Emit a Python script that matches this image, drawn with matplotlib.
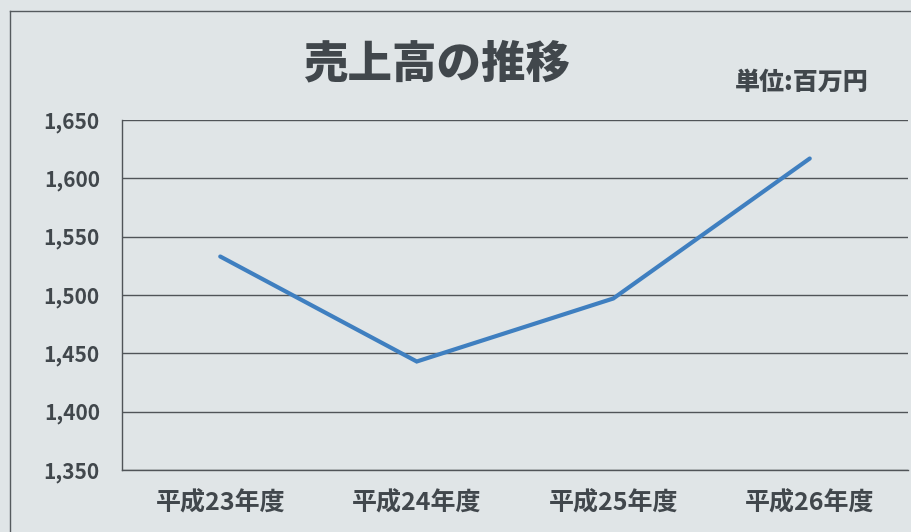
import matplotlib.pyplot as plt
from matplotlib.lines import Line2D
from matplotlib.ticker import FuncFormatter

plt.rcParams['font.family'] = ['Noto Sans CJK JP', 'DejaVu Sans']

# 売上高 (百万円)
years = ['平成23年度', '平成24年度', '平成25年度', '平成26年度']
sales = [1533, 1443, 1497, 1617]
y_ticks = [1350, 1400, 1450, 1500, 1550, 1600, 1650]

bg = '#e0e5e7'
text_col = '#41474c'

fig = plt.figure(figsize=(9.12, 5.32), dpi=100, facecolor=bg)
ax = fig.add_axes([122 / 912, 62 / 532, 786 / 912, 350 / 532])
ax.set_facecolor(bg)

x = range(len(years))
ax.plot(x, sales, color='#3f7fc0', linewidth=3.0, solid_capstyle='round', solid_joinstyle='miter', zorder=3)

ax.set_xlim(-0.5, len(years) - 0.5)
ax.set_ylim(y_ticks[0], y_ticks[-1])
ax.set_yticks(y_ticks)
ax.yaxis.set_major_formatter(FuncFormatter(lambda v, p: f'{int(v):,}'))
ax.set_xticks(list(x))
ax.set_xticklabels(years)

ax.grid(axis='y', color='#505458', linewidth=1.0)
ax.tick_params(axis='both', length=0, colors=text_col)
ax.tick_params(axis='y', pad=16, labelsize=15)
ax.tick_params(axis='x', pad=15, labelsize=18)
for lab in ax.get_xticklabels() + ax.get_yticklabels():
    lab.set_fontweight('bold')

for side in ['top', 'right']:
    ax.spines[side].set_visible(False)
for side in ['left', 'bottom']:
    ax.spines[side].set_color('#505458')
    ax.spines[side].set_linewidth(1.0)

fig.text(437 / 912, 1 - 64 / 532, '売上高の推移', ha='center', va='center',
         fontsize=32, fontweight='heavy', color=text_col)
fig.text(802 / 912, 1 - 82 / 532, '単位:百万円', ha='center', va='center',
         fontsize=18, fontweight='heavy', color=text_col)

# chart frame
fig.add_artist(Line2D([10 / 912, 10 / 912], [0, 1 - 11 / 532], color='#555a5e', linewidth=1.0))
fig.add_artist(Line2D([10 / 912, 1], [1 - 11 / 532, 1 - 11 / 532], color='#555a5e', linewidth=1.0))

fig.savefig('out.png', dpi=100, facecolor=bg)
